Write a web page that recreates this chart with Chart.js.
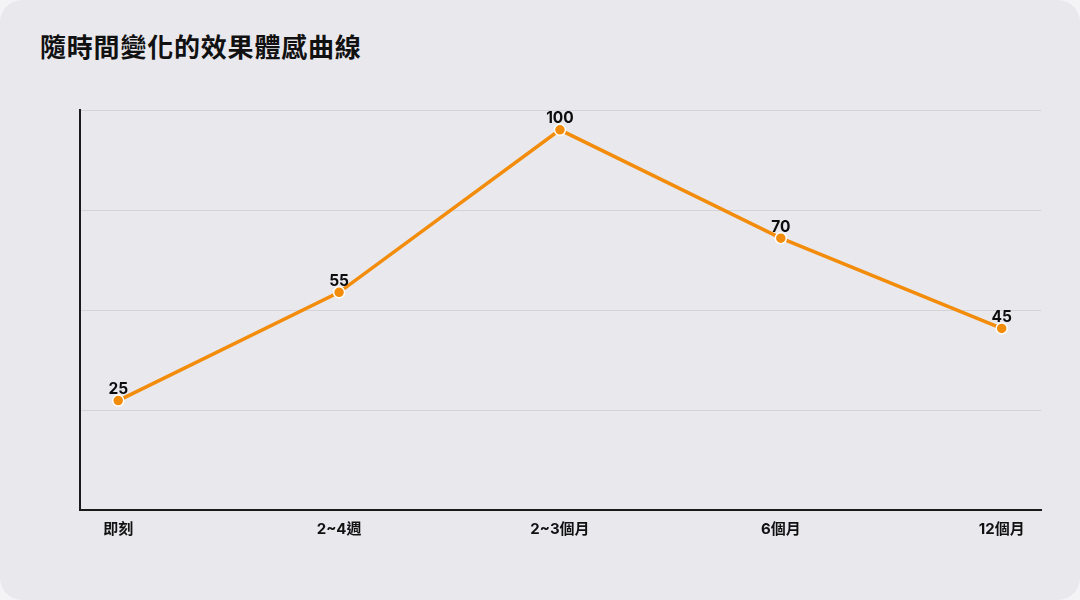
<!DOCTYPE html>
<html lang="zh-Hant">
<head>
<meta charset="utf-8">
<script src="https://cdn.jsdelivr.net/npm/chart.js@4/dist/chart.umd.min.js"></script>
<style>
  html, body { margin: 0; padding: 0; background: #f4f4f6; }
  .card {
    position: relative;
    width: 1080px; height: 600px;
    background: #e9e8ed;
    border-radius: 22px;
    overflow: hidden;
  }
  .card h1 {
    position: absolute; left: 40px; top: 27px; margin: 0;
    font: 700 26px "Noto Sans CJK TC", sans-serif;
    color: #111;
    letter-spacing: 0.8px;
  }
  #chart { position: absolute; left: 0; top: 0; }
</style>
</head>
<body>
<div class="card">
  <h1>隨時間變化的效果體感曲線</h1>
  <canvas id="chart" width="1080" height="600"></canvas>
</div>
<script>
/* data */
const stages = ['即刻', '2~4週', '2~3個月', '6個月', '12個月'];
const feelScores = [25, 55, 100, 70, 45];

const ORANGE = '#f28c0a';
const FONT = 'Inter, "Noto Sans CJK TC", sans-serif';

/* value labels above each point */
const pointLabels = {
    id: 'pointLabels',
    afterDatasetsDraw(chart) {
        const ctx = chart.ctx;
        const meta = chart.getDatasetMeta(0);
        ctx.save();
        ctx.font = '700 15.5px ' + FONT;
        ctx.fillStyle = '#0d0d0d';
        ctx.textAlign = 'center';
        ctx.textBaseline = 'alphabetic';
        meta.data.forEach((pt, i) => {
            ctx.fillText(String(feelScores[i]), pt.x, pt.y - 6.5);
        });
        ctx.restore();
    }
};

new Chart(document.getElementById('chart').getContext('2d'), {
    type: 'line',
    data: {
        datasets: [{
            data: feelScores.map((v, i) => ({ x: i, y: v })),
            borderColor: ORANGE,
            backgroundColor: ORANGE,
            borderWidth: 3.5,
            pointRadius: 5.5,
            pointBackgroundColor: ORANGE,
            pointBorderColor: '#ffffff',
            pointBorderWidth: 1.5,
            tension: 0,
        }]
    },
    options: {
        responsive: false,
        animation: false,
        layout: { padding: { left: 80, right: 39, top: 110, bottom: 0 } },
        plugins: {
            legend: { display: false },
            tooltip: { enabled: false }
        },
        scales: {
            x: {
                type: 'linear',
                min: -0.173,
                max: 4.178,
                afterBuildTicks: s => { s.ticks = stages.map((_, i) => ({ value: i })); },
                afterFit: s => { s.height = 90; },
                grid: { display: false, drawTicks: false },
                border: { display: true, color: '#1a1a1a', width: 2 },
                ticks: {
                    padding: 10,
                    color: '#111',
                    font: { family: FONT, size: 15, weight: '700' },
                    callback: v => stages[v] ?? ''
                }
            },
            y: {
                min: -5.3,
                max: 105.5,
                afterFit: s => { s.width = 0; },
                ticks: { display: false, count: 5 },
                grid: { color: '#d4d3d9', lineWidth: 1, drawTicks: false },
                border: { display: true, color: '#1a1a1a', width: 2 }
            }
        }
    },
    plugins: [pointLabels]
});
</script>
</body>
</html>
